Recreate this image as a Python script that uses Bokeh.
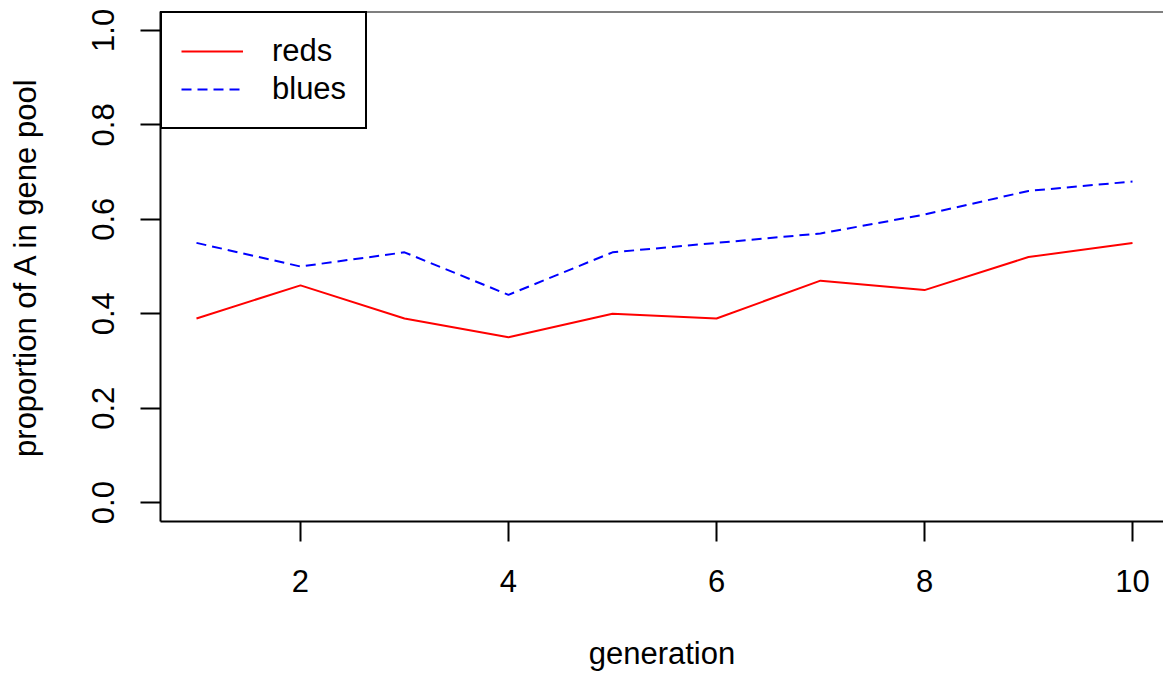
from bokeh.plotting import figure
from bokeh.models import Range1d, FixedTicker, PrintfTickFormatter, Legend, LegendItem, Span
from bokeh.embed import file_html
from bokeh.resources import INLINE

generation = [1, 2, 3, 4, 5, 6, 7, 8, 9, 10]
reds = [0.39, 0.46, 0.39, 0.35, 0.40, 0.39, 0.47, 0.45, 0.52, 0.55]
blues = [0.55, 0.50, 0.53, 0.44, 0.53, 0.55, 0.57, 0.61, 0.66, 0.68]
x_ticks = [2, 4, 6, 8, 10]
y_ticks = [0.0, 0.2, 0.4, 0.6, 0.8, 1.0]

FONT = "Liberation Sans"
FS = "31px"

p = figure(width=1163, height=674, output_backend="svg", toolbar_location=None,
           x_range=Range1d(0.654, 10.298), y_range=Range1d(-0.04, 1.04),
           min_border_left=160, min_border_top=11, min_border_right=0, min_border_bottom=153,
           x_axis_label="generation", y_axis_label="proportion of A in gene pool")
p.outline_line_color = None
p.grid.visible = False
p.background_fill_color = "white"

r1 = p.line(generation, reds, line_color="red", line_width=2)
r2 = p.line(generation, blues, line_color="blue", line_width=2, line_dash="10 6")

p.xaxis.ticker = FixedTicker(ticks=x_ticks)
p.yaxis.ticker = FixedTicker(ticks=y_ticks)
p.yaxis.formatter = PrintfTickFormatter(format="%.1f")

for ax in p.axis:
    ax.axis_line_width = 2
    ax.axis_line_color = "black"
    ax.major_tick_line_width = 2
    ax.major_tick_line_color = "black"
    ax.major_tick_out = 20
    ax.major_tick_in = 0
    ax.minor_tick_line_color = None
    ax.major_label_text_font = FONT
    ax.major_label_text_font_size = FS
    ax.major_label_text_color = "black"
    ax.axis_label_text_font = FONT
    ax.axis_label_text_font_size = FS
    ax.axis_label_text_font_style = "normal"
    ax.axis_label_text_color = "black"

p.yaxis.major_label_orientation = "parallel"
p.yaxis.major_label_standoff = 26
p.yaxis.axis_label_standoff = 47
p.xaxis.major_label_standoff = 28
p.xaxis.axis_label_standoff = 41

top = Span(location=1.04, dimension="width", line_color="black", line_width=2)
p.add_layout(top)

legend = Legend(items=[LegendItem(label="reds", renderers=[r1]),
                       LegendItem(label="blues", renderers=[r2])],
                location="top_left", margin=0, padding=19, spacing=0,
                glyph_width=62, glyph_height=38, label_height=38, label_standoff=29,
                label_text_font=FONT, label_text_font_size=FS, label_text_color="black",
                border_line_color="black", border_line_width=2, border_line_alpha=1,
                background_fill_color="white", background_fill_alpha=1)
p.add_layout(legend)

open("out.html", "w").write(file_html(p, INLINE))
